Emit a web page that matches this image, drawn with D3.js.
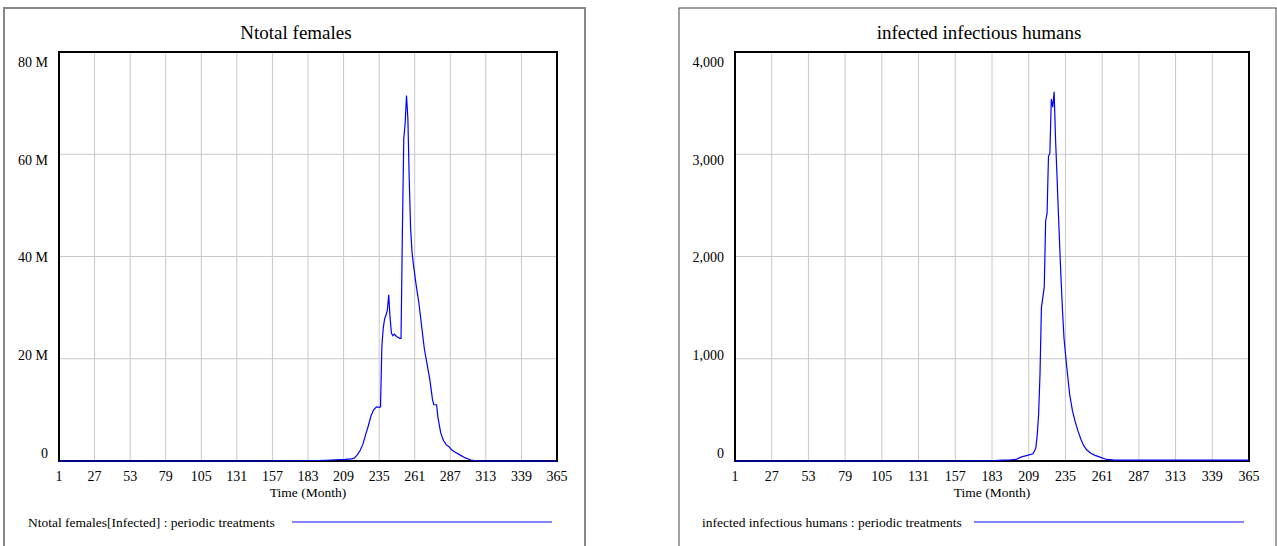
<!DOCTYPE html>
<html>
<head>
<meta charset="utf-8">
<script src="https://cdn.jsdelivr.net/npm/d3@7"></script>
<style>
  html, body { margin: 0; padding: 0; background: #fff; }
  svg { display: block; font-family: "Liberation Serif", "DejaVu Serif", serif; }
</style>
</head>
<body>
<div class="draw-charts"></div>
<script>
// x tick labels (Time in months)
const monthTicks = [1, 27, 53, 79, 105, 131, 157, 183, 209, 235, 261, 287, 313, 339, 365];

// Ntotal females[Infected] (millions)
const femaleTicks = [0, 20, 40, 60, 80];
const femaleMonths = [1, 150, 190, 200, 210, 215, 217, 219, 221, 223, 225, 227, 229, 231, 233, 235, 236,
  237, 238, 239, 240, 241, 242, 243, 244, 245, 246, 248, 250, 251, 252, 253, 254, 255, 256, 257, 258,
  259, 260, 262, 264, 266, 268, 270, 272, 274, 275, 277, 278, 280, 282, 284, 286, 288, 290, 294, 298,
  302, 306, 310, 365];
const femaleValues = [0, 0, 0.1, 0.2, 0.3, 0.4, 0.6, 1.2, 2.0, 3.2, 5.0, 6.8, 8.8, 10.0, 10.6, 10.5, 10.6,
  22.5, 26.0, 27.8, 28.5, 29.5, 32.5, 28.0, 25.0, 24.5, 24.8, 24.3, 24.0, 24.0, 45.0, 63.0, 66.0, 71.5, 67.0, 55.0, 45.5,
  41.0, 38.5, 34.5, 31.0, 26.5, 22.0, 19.0, 16.0, 12.0, 11.0, 11.0, 8.5, 5.5, 4.0, 3.2, 2.8, 2.2, 1.8, 1.2, 0.6,
  0.2, 0.05, 0, 0];

// infected infectious humans
const humanTicks = [0, 1000, 2000, 3000, 4000];
const humanMonths = [1, 150, 185, 190, 195, 200, 204, 208, 212, 214, 215, 216, 217, 218, 219, 220, 221, 222,
  223, 224, 225, 226, 227, 228, 229, 230, 231, 232, 233, 234, 236, 238, 240, 242, 244, 246, 248, 250,
  253, 256, 260, 264, 270, 365];
const humanValues = [0, 0, 3, 8, 10, 15, 40, 55, 70, 125, 250, 450, 850, 1500, 1600, 1700, 2350, 2420,
  2980, 3010, 3540, 3460, 3610, 3150, 2800, 2430, 2080, 1750, 1450, 1200, 910, 650, 490, 380, 290, 210, 150, 110,
  75, 55, 35, 15, 8, 8];

const svg = d3
  .select(".draw-charts")
  .append("svg")
  .attr("width", 1277)
  .attr("height", 546);

const draw = (props) => {
  const p = props.plot;
  const data = props.months.map(function (m, i) {
    return { month: m, value: props.values[i] };
  });

  // outer panel border
  svg
    .append("rect")
    .attr("x", props.panel.x)
    .attr("y", props.panel.y)
    .attr("width", props.panel.w)
    .attr("height", props.panel.h)
    .attr("fill", "none")
    .attr("stroke", props.panel.stroke)
    .attr("stroke-width", props.panel.sw);

  svg
    .append("text")
    .attr("x", props.titleX)
    .attr("y", 39)
    .attr("text-anchor", "middle")
    .style("font-size", "19px")
    .text(props.title);

  let x = d3.scaleLinear().domain([1, 365]).range([p.left, p.right]);
  let y = d3.scaleLinear().domain([0, props.yMax]).range([p.bottom, p.top]);
  // tick labels are spread a little inside the frame
  let yLabel = d3.scaleLinear().domain([0, props.yMax]).range([p.bottom - 8, p.top + 10]);

  let g = svg.append("g");

  // grid
  g.selectAll(".vgrid")
    .data(monthTicks.slice(1, -1))
    .enter()
    .append("line")
    .attr("x1", function (d) { return x(d); })
    .attr("x2", function (d) { return x(d); })
    .attr("y1", p.top)
    .attr("y2", p.bottom)
    .attr("stroke", "#c8c8c8")
    .attr("stroke-width", 1);

  g.selectAll(".hgrid")
    .data(props.yTicks.slice(1, -1))
    .enter()
    .append("line")
    .attr("x1", p.left)
    .attr("x2", p.right)
    .attr("y1", function (d) { return y(d); })
    .attr("y2", function (d) { return y(d); })
    .attr("stroke", "#c8c8c8")
    .attr("stroke-width", 1);

  // frame
  g.append("rect")
    .attr("x", p.left)
    .attr("y", p.top)
    .attr("width", p.right - p.left)
    .attr("height", p.bottom - p.top)
    .attr("fill", "none")
    .attr("stroke", "#000")
    .attr("stroke-width", 2);

  // y labels
  g.selectAll(".ylab")
    .data(props.yTicks)
    .enter()
    .append("text")
    .attr("x", p.left - 11)
    .attr("y", function (d) { return yLabel(d); })
    .attr("dy", "0.35em")
    .attr("text-anchor", "end")
    .style("font-size", "14px")
    .text(props.yFormat);

  // x labels
  g.selectAll(".xlab")
    .data(monthTicks)
    .enter()
    .append("text")
    .attr("x", function (d) { return x(d); })
    .attr("y", p.bottom + 15)
    .attr("dy", "0.35em")
    .attr("text-anchor", "middle")
    .style("font-size", "14px")
    .text(function (d) { return d; });

  g.append("text")
    .attr("x", (p.left + p.right) / 2)
    .attr("y", p.bottom + 31)
    .attr("dy", "0.35em")
    .attr("text-anchor", "middle")
    .style("font-size", "13.5px")
    .text("Time (Month)");

  // series
  let line = d3
    .line()
    .x(function (d) { return x(d.month); })
    .y(function (d) { return y(d.value); });

  g.append("path")
    .datum(data)
    .attr("d", line)
    .attr("fill", "none")
    .attr("stroke", "#0000ff")
    .attr("stroke-width", 1.2);

  // legend
  g.append("text")
    .attr("x", props.legend.x)
    .attr("y", 522)
    .attr("dy", "0.35em")
    .style("font-size", "13.5px")
    .text(props.legend.label);

  g.append("line")
    .attr("x1", props.legend.x1)
    .attr("x2", props.legend.x2)
    .attr("y1", 522)
    .attr("y2", 522)
    .attr("stroke", "#5a5aff")
    .attr("stroke-width", 1.5);
};

draw({
  panel: { x: 4, y: 8, w: 581, h: 560, stroke: "#888", sw: 2 },
  plot: { left: 59, top: 52, right: 557, bottom: 461 },
  title: "Ntotal females",
  titleX: 296,
  months: femaleMonths,
  values: femaleValues,
  yMax: 80,
  yTicks: femaleTicks,
  yFormat: function (d) { return d === 0 ? "0" : d + " M"; },
  legend: { x: 28, x1: 292, x2: 552, label: "Ntotal females[Infected] : periodic treatments" },
});

draw({
  panel: { x: 679, y: 8, w: 597, h: 560, stroke: "#444", sw: 1 },
  plot: { left: 735, top: 52, right: 1249, bottom: 461 },
  title: "infected infectious humans",
  titleX: 979,
  months: humanMonths,
  values: humanValues,
  yMax: 4000,
  yTicks: humanTicks,
  yFormat: d3.format(","),
  legend: { x: 702, x1: 974, x2: 1244, label: "infected infectious humans : periodic treatments" },
});
</script>
</body>
</html>
